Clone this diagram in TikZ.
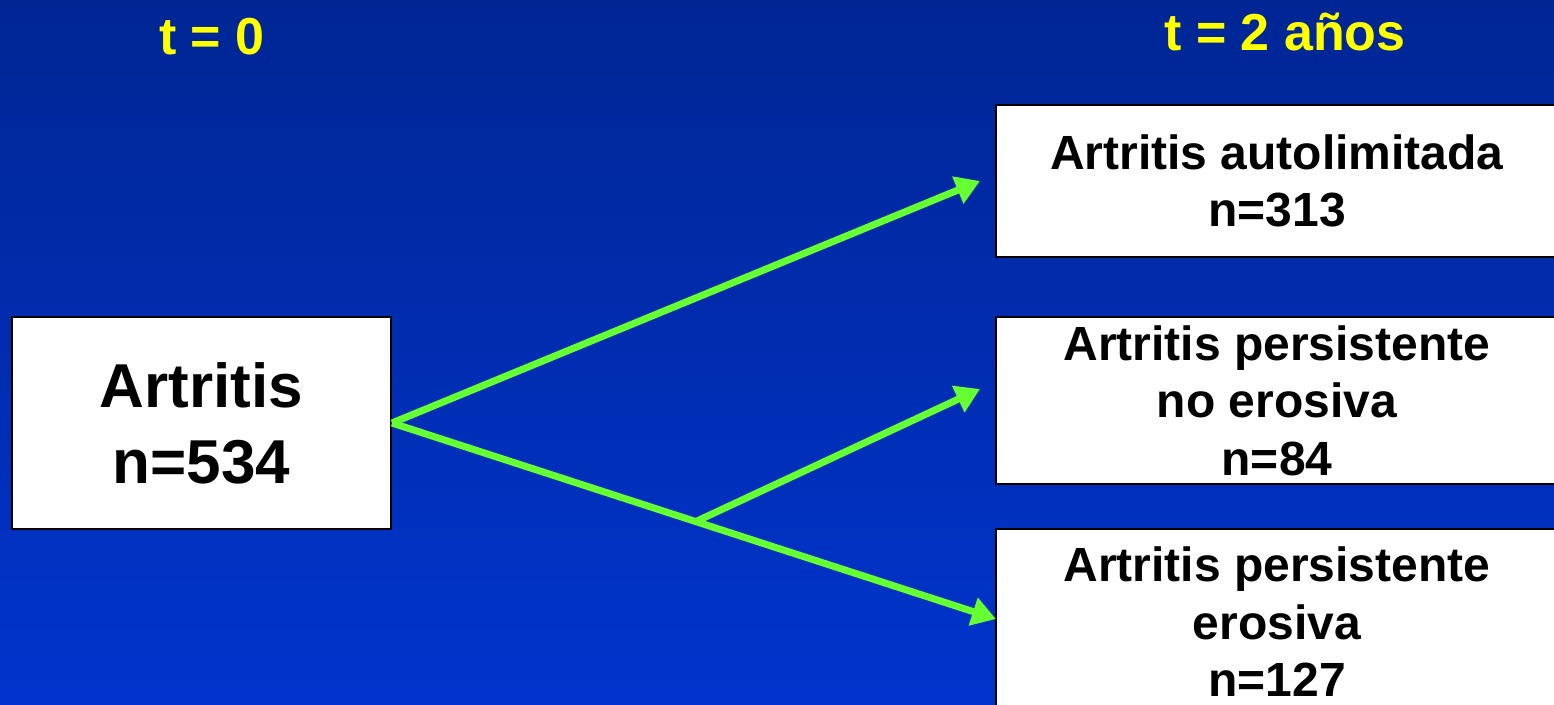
\documentclass[tikz,border=0pt]{standalone}
\usepackage{fontspec}
\setmainfont{Liberation Sans}
\usetikzlibrary{arrows.meta}
\definecolor{bgtop}{RGB}{0,38,148}
\definecolor{bgbot}{RGB}{0,52,205}
\definecolor{arrowgreen}{RGB}{102,255,51}
\definecolor{titleyellow}{RGB}{255,255,0}
\tikzset{
  box/.style={draw=black, line width=2pt, fill=white, align=center, inner sep=0pt},
  boxtext/.style={font=\fontsize{48}{57.5}\selectfont\bfseries},
  bigtext/.style={font=\fontsize{62}{76}\selectfont\bfseries},
  title/.style={text=titleyellow, font=\fontsize{52}{60}\selectfont\bfseries, anchor=base, inner sep=0pt},
  flow/.style={draw=arrowgreen, line width=7pt, -{Triangle[length=24pt,width=28pt]}}
}
\begin{document}
\begin{tikzpicture}[x=1pt,y=-1pt]
\useasboundingbox (0,0) rectangle (1554,704);
\clip (0,0) rectangle (1554,704);
\shade[top color=bgtop, bottom color=bgbot] (0,0) rectangle (1554,704);

\node[title] (t0) at (212,54) {t = 0};
\node[title] (t2) at (1285,50) {t = 2 años};

\node[box, bigtext, minimum width=379pt, minimum height=212pt] (start) at (201.5,423) {Artritis\\n=534};
\node[box, boxtext, minimum width=562pt, minimum height=152pt] (auto) at (1277,181) {Artritis autolimitada\\n=313};
\node[box, boxtext, minimum width=562pt, minimum height=167pt] (pne) at (1277,400.5) {Artritis persistente\\no erosiva\\n=84};
\node[box, boxtext, minimum width=562pt, minimum height=186pt] (pe) at (1277,622) {Artritis persistente\\erosiva\\n=127};

\coordinate (src) at (start.east);
\coordinate (branch) at (697,521);
\coordinate (tipA) at (980,181);
\coordinate (tipB) at (980,389);
\coordinate (tipC) at (996,619);

\draw[flow] (src) -- (tipA);
\draw[flow] (src) -- (tipC);
\draw[flow] (branch) -- (tipB);
\end{tikzpicture}
\end{document}
